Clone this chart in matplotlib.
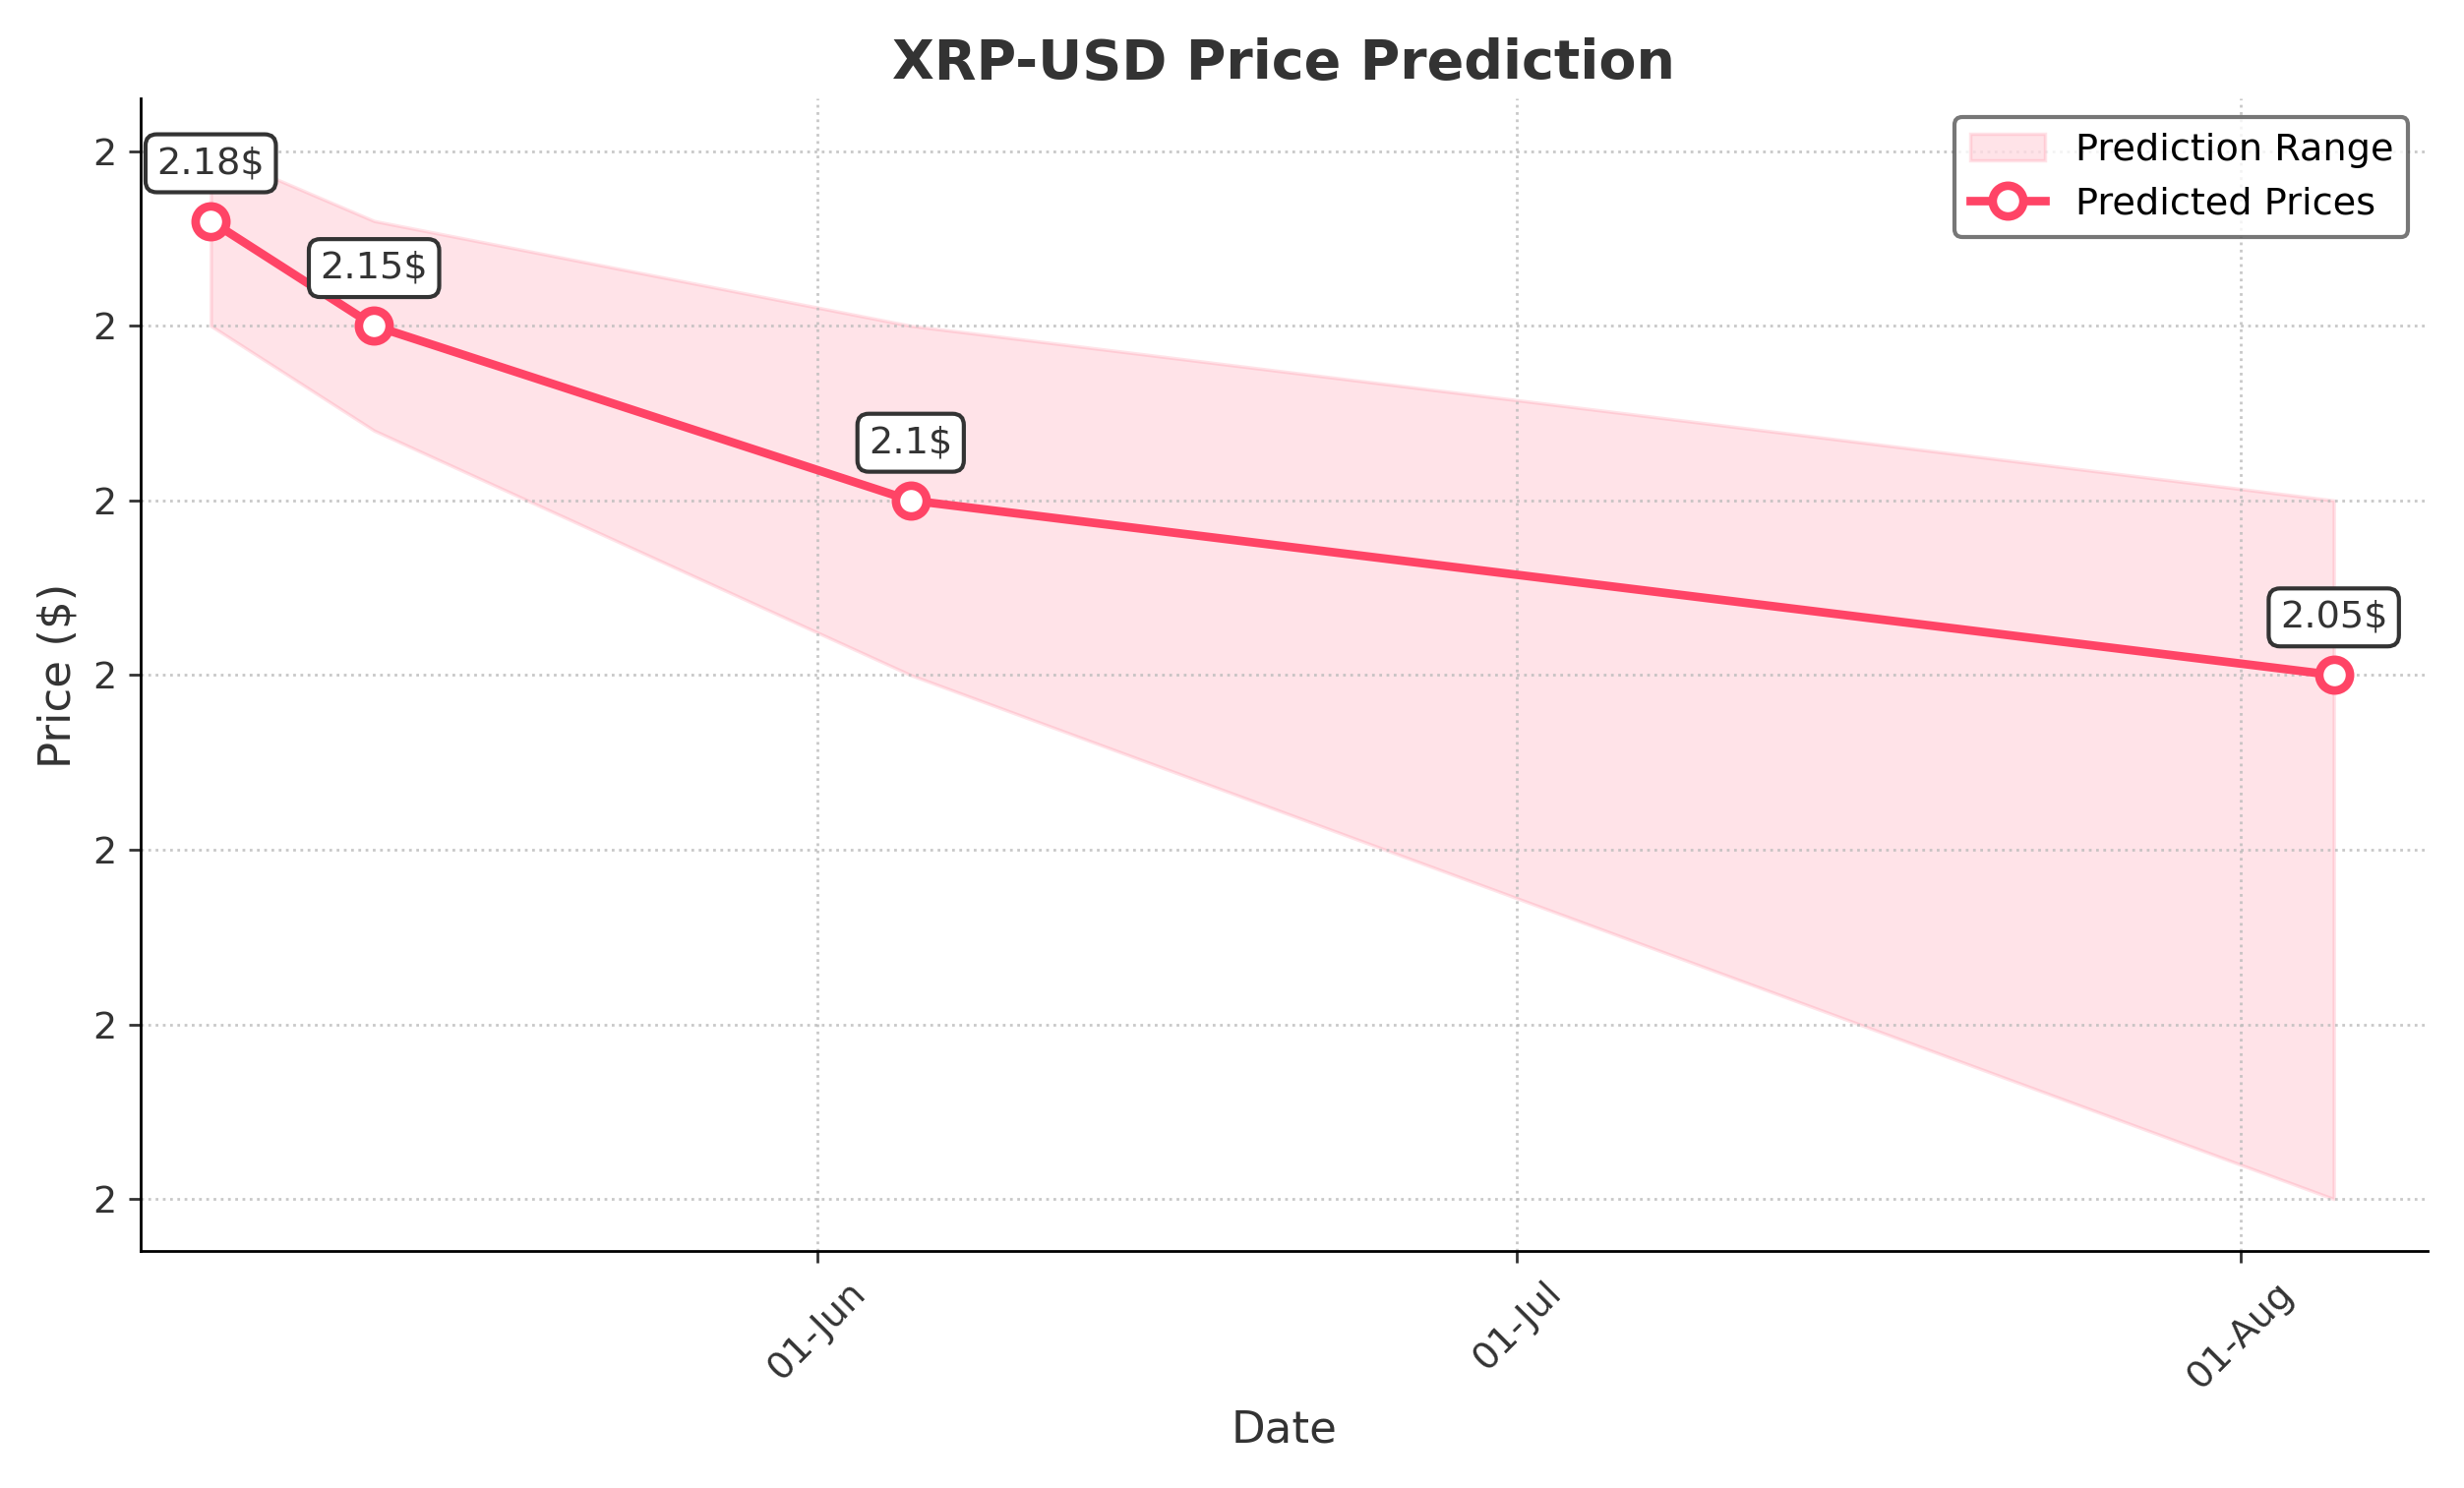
import matplotlib
matplotlib.use("Agg")
import matplotlib.pyplot as plt
import matplotlib.dates as mdates
from matplotlib.ticker import FormatStrFormatter
import pandas as pd

dates = pd.to_datetime(["2025-05-06", "2025-05-13", "2025-06-05", "2025-08-05"])
predicted = [2.18, 2.15, 2.10, 2.05]
upper = [2.20, 2.18, 2.15, 2.10]
lower = [2.15, 2.12, 2.05, 1.90]
labels = ["2.18$", "2.15$", "2.1$", "2.05$"]

color = "#FF4466"
fig, ax = plt.subplots(figsize=(10.02, 6.052), dpi=250)
ax.fill_between(dates, lower, upper, color=color, alpha=0.15, label="Prediction Range")
ax.plot(dates, predicted, color=color, lw=2.5, marker="o", ms=9, mfc="white",
        mew=2.5, label="Predicted Prices")
for d, p, t in zip(dates, predicted, labels):
    ax.annotate(t, (d, p), xytext=(0, 14), textcoords="offset points", ha="center",
                fontsize=11, color="#333333",
                bbox=dict(boxstyle="round,pad=0.3", fc="white", ec="#333333", lw=1.2))

ax.set_title("XRP-USD Price Prediction", fontsize=16, fontweight="bold", color="#333333")
ax.set_xlabel("Date", fontsize=13, color="#333333")
ax.set_ylabel("Price ($)", fontsize=13, color="#333333")
ax.xaxis.set_major_locator(mdates.MonthLocator())
ax.xaxis.set_major_formatter(mdates.DateFormatter("%d-%b"))
ax.yaxis.set_major_formatter(FormatStrFormatter("%.0f"))
ax.set_yticks([1.90, 1.95, 2.00, 2.05, 2.10, 2.15, 2.20])
ax.set_ylim(1.885, 2.215)
ax.set_xlim(pd.Timestamp("2025-05-03"), pd.Timestamp("2025-08-09"))
plt.setp(ax.get_xticklabels(), rotation=45)
ax.tick_params(labelsize=11, colors="#333333")
ax.grid(True, linestyle=":", color="#bbbbbb", alpha=0.8)
ax.spines["top"].set_visible(False)
ax.spines["right"].set_visible(False)
leg = ax.legend(loc="upper right", fontsize=11, frameon=True, edgecolor="#555555")
leg.get_frame().set_linewidth(1.2)
plt.tight_layout()
fig.savefig("out.png", dpi=250)
